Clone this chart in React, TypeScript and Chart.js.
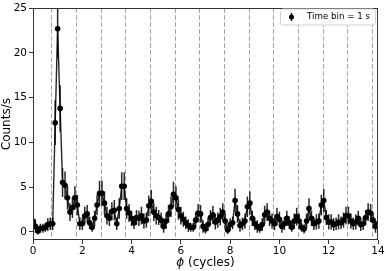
import React, { useEffect, useRef } from "react";
import { Chart, registerables } from "chart.js";

Chart.register(...registerables);

const phase = [
  0.0, 0.1, 0.2, 0.3, 0.4, 0.5, 0.6, 0.7, 0.8, 0.9,
  1.0, 1.1, 1.2, 1.3, 1.4, 1.5, 1.6, 1.7, 1.8, 1.9,
  2.0, 2.1, 2.2, 2.3, 2.4, 2.5, 2.6, 2.7, 2.8, 2.9,
  3.0, 3.1, 3.2, 3.3, 3.4, 3.5, 3.6, 3.7, 3.8, 3.9,
  4.0, 4.1, 4.2, 4.3, 4.4, 4.5, 4.6, 4.7, 4.8, 4.9,
  5.0, 5.1, 5.2, 5.3, 5.4, 5.5, 5.6, 5.7, 5.8, 5.9,
  6.0, 6.1, 6.2, 6.3, 6.4, 6.5, 6.6, 6.7, 6.8, 6.9,
  7.0, 7.1, 7.2, 7.3, 7.4, 7.5, 7.6, 7.7, 7.8, 7.9,
  8.0, 8.1, 8.2, 8.3, 8.4, 8.5, 8.6, 8.7, 8.8, 8.9,
  9.0, 9.1, 9.2, 9.3, 9.4, 9.5, 9.6, 9.7, 9.8, 9.9,
  10.0, 10.1, 10.2, 10.3, 10.4, 10.5, 10.6, 10.7, 10.8, 10.9,
  11.0, 11.1, 11.2, 11.3, 11.4, 11.5, 11.6, 11.7, 11.8, 11.9,
  12.0, 12.1, 12.2, 12.3, 12.4, 12.5, 12.6, 12.7, 12.8, 12.9,
  13.0, 13.1, 13.2, 13.3, 13.4, 13.5, 13.6, 13.7, 13.8, 13.9,
  14.0,
];

const counts = [
  1.2, 0.6, 0.1, 0.4, 0.4, 0.5, 0.8, 0.9, 0.9, 12.2,
  22.7, 13.8, 5.5, 5.2, 3.8, 2.2, 2.7, 3.8, 3.0, 0.9,
  0.9, 1.8, 2.0, 1.0, 0.5, 1.5, 3.0, 4.3, 4.3, 3.2,
  1.8, 1.5, 2.3, 2.4, 0.9, 2.6, 5.1, 5.1, 2.6, 2.1,
  1.5, 1.0, 1.6, 1.5, 1.8, 1.2, 1.3, 2.9, 3.4, 2.2,
  1.8, 1.6, 1.3, 0.6, 1.2, 2.0, 2.8, 4.2, 3.8, 2.5,
  1.8, 1.4, 1.0, 0.7, 0.5, 0.5, 1.3, 2.1, 2.0, 0.6,
  0.3, 0.8, 1.6, 1.9, 1.1, 1.3, 1.7, 2.2, 1.2, 0.2,
  0.8, 1.0, 3.5, 2.0, 0.7, 0.9, 1.2, 2.8, 3.2, 1.5,
  0.9, 0.6, 0.4, 0.8, 1.9, 2.2, 1.5, 1.2, 0.9, 1.7,
  1.4, 0.6, 0.9, 1.5, 1.0, 0.5, 1.2, 1.7, 1.2, 0.5,
  0.3, 1.2, 2.6, 1.5, 0.9, 1.1, 1.2, 3.0, 3.5, 1.6,
  1.1, 1.1, 0.8, 0.9, 1.1, 1.0, 1.3, 1.8, 1.8, 1.2,
  0.9, 1.1, 1.5, 0.8, 0.9, 1.6, 2.2, 2.1, 1.3, 0.6,
  0.9,
];

const errors = [
  0.85, 0.7, 0.4, 0.5, 0.5, 0.5, 0.7, 0.7, 0.7, 2.5,
  3.3, 2.6, 1.6, 1.55, 1.3, 1.0, 1.15, 1.3, 1.15, 0.7,
  0.7, 1.0, 1.0, 0.7, 0.5, 0.85, 1.15, 1.4, 1.4, 1.3,
  1.0, 0.85, 1.0, 1.15, 0.7, 1.15, 1.55, 1.55, 1.15, 1.0,
  0.85, 0.7, 0.85, 0.85, 1.0, 0.85, 0.85, 1.15, 1.3, 1.0,
  1.0, 0.85, 0.85, 0.7, 0.85, 1.0, 1.15, 1.4, 1.3, 1.15,
  1.0, 0.85, 0.7, 0.7, 0.5, 0.5, 0.85, 1.0, 1.0, 0.7,
  0.5, 0.7, 0.85, 1.0, 0.85, 0.85, 1.0, 1.0, 0.85, 0.45,
  0.7, 0.7, 1.3, 1.0, 0.7, 0.7, 0.85, 1.15, 1.3, 0.85,
  0.7, 0.7, 0.5, 0.7, 1.0, 1.0, 0.85, 0.85, 0.7, 1.0,
  0.85, 0.7, 0.7, 0.85, 0.7, 0.5, 0.85, 1.0, 0.85, 0.5,
  0.5, 0.85, 1.15, 0.85, 0.7, 0.85, 0.85, 1.15, 1.3, 0.85,
  0.85, 0.85, 0.7, 0.7, 0.85, 0.7, 0.85, 1.0, 1.0, 0.85,
  0.7, 0.85, 0.85, 0.7, 0.7, 0.85, 1.0, 1.0, 0.85, 0.7,
  0.7,
];

const dashedLines = [0.75, 1.75, 2.75, 3.75, 4.75, 5.75, 6.75, 7.75, 8.75, 9.75, 10.75, 11.75, 12.75, 13.75];
const xTicks = [0, 2, 4, 6, 8, 10, 12, 14];
const yTicks = [0, 5, 10, 15, 20, 25];
const xTitleSymbol = "ϕ";
const xTitleRest = " (cycles)";
const yTitle = "Counts/s";
const legendLabel = "Time bin = 1 s";

const FONT = "'DejaVu Sans', sans-serif";

const decorPlugin = {
  id: "decor",
  beforeDatasetsDraw(chart: any) {
    const { ctx, chartArea, scales } = chart;
    const xs = scales.x;
    const ys = scales.y;
    ctx.save();
    ctx.beginPath();
    ctx.rect(chartArea.left, chartArea.top, chartArea.right - chartArea.left, chartArea.bottom - chartArea.top);
    ctx.clip();
    // dashed vertical lines
    ctx.strokeStyle = "#a0a0a0";
    ctx.lineWidth = 1;
    ctx.setLineDash([4.5, 2.5]);
    for (const v of dashedLines) {
      const px = Math.round(xs.getPixelForValue(v)) + 0.5;
      ctx.beginPath();
      ctx.moveTo(px, chartArea.top);
      ctx.lineTo(px, chartArea.bottom);
      ctx.stroke();
    }
    ctx.setLineDash([]);
    // error bars
    ctx.strokeStyle = "rgba(0,0,0,0.85)";
    ctx.lineWidth = 1.5;
    for (let i = 0; i < phase.length; i++) {
      const px = xs.getPixelForValue(phase[i]);
      const y1 = ys.getPixelForValue(counts[i] - errors[i]);
      const y2 = ys.getPixelForValue(counts[i] + errors[i]);
      ctx.beginPath();
      ctx.moveTo(px, y1);
      ctx.lineTo(px, y2);
      ctx.stroke();
    }
    ctx.restore();
  },
  afterDraw(chart: any) {
    const { ctx, chartArea } = chart;
    ctx.save();
    // frame
    ctx.strokeStyle = "#333";
    ctx.lineWidth = 1;
    ctx.strokeRect(
      Math.round(chartArea.left) + 0.5,
      Math.round(chartArea.top) + 0.5,
      Math.round(chartArea.right - chartArea.left) - 1,
      Math.round(chartArea.bottom - chartArea.top) - 1
    );
    // x title
    ctx.fillStyle = "#000";
    ctx.textBaseline = "middle";
    ctx.font = `italic 12px ${FONT}`;
    const w1 = ctx.measureText(xTitleSymbol).width;
    ctx.font = `12px ${FONT}`;
    const w2 = ctx.measureText(xTitleRest).width;
    const cx = (chartArea.left + chartArea.right) / 2;
    let sx = cx - (w1 + w2) / 2;
    ctx.textAlign = "left";
    ctx.font = `italic 12px ${FONT}`;
    ctx.fillText(xTitleSymbol, sx, 263);
    ctx.font = `12px ${FONT}`;
    ctx.fillText(xTitleRest, sx + w1, 263);
    // y title
    ctx.save();
    ctx.translate(7, (chartArea.top + chartArea.bottom) / 2);
    ctx.rotate(-Math.PI / 2);
    ctx.textAlign = "center";
    ctx.font = `12px ${FONT}`;
    ctx.fillText(yTitle, 0, 0);
    ctx.restore();
    // legend
    const lx = 280, ly = 8.5, lw = 95, lh = 16;
    ctx.beginPath();
    ctx.roundRect(lx + 0.5, ly + 0.5, lw, lh, 2.5);
    ctx.fillStyle = "rgba(255,255,255,0.85)";
    ctx.fill();
    ctx.strokeStyle = "#d0d0d0";
    ctx.lineWidth = 1;
    ctx.stroke();
    const my = ly + lh / 2 + 0.5;
    ctx.strokeStyle = "#000";
    ctx.lineWidth = 1.4;
    ctx.beginPath();
    ctx.moveTo(291.5, my - 4);
    ctx.lineTo(291.5, my + 4);
    ctx.stroke();
    ctx.fillStyle = "#000";
    ctx.beginPath();
    ctx.arc(291.5, my, 2.5, 0, Math.PI * 2);
    ctx.fill();
    ctx.font = `8.7px ${FONT}`;
    ctx.textAlign = "left";
    ctx.textBaseline = "middle";
    ctx.fillText(legendLabel, 307, my);
    ctx.restore();
  },
};

export default function App() {
  const ref = useRef<HTMLCanvasElement>(null);
  useEffect(() => {
    if (!ref.current) return;
    const points = phase.map((p, i) => ({ x: p, y: counts[i] }));
    const chart = new Chart(ref.current, {
      type: "scatter",
      data: {
        datasets: [
          {
            data: points,
            showLine: true,
            borderColor: "rgba(0,0,0,0.85)",
            borderWidth: 1.4,
            backgroundColor: "#000",
            pointBackgroundColor: "#000",
            pointBorderWidth: 0,
            pointRadius: 2.8,
            tension: 0,
          },
        ],
      },
      options: {
        animation: false,
        responsive: true,
        maintainAspectRatio: false,
        layout: { padding: { left: 0, right: 8, top: 5, bottom: 0 } },
        plugins: { legend: { display: false }, tooltip: { enabled: false } },
        scales: {
          x: {
            type: "linear",
            min: 0,
            max: 14,
            afterBuildTicks: (s: any) => {
              s.ticks = xTicks.map((v) => ({ value: v }));
            },
            afterFit: (s: any) => {
              s.height = 31;
            },
            grid: { display: true, drawOnChartArea: false, drawTicks: true, tickLength: 4, color: "#333" },
            border: { display: false },
            ticks: { color: "#000", font: { family: FONT, size: 10.5 }, padding: 1, maxRotation: 0 },
          },
          y: {
            type: "linear",
            min: -0.92,
            max: 25,
            afterBuildTicks: (s: any) => {
              s.ticks = yTicks.map((v) => ({ value: v }));
            },
            afterFit: (s: any) => {
              s.width = 33;
            },
            grid: { display: true, drawOnChartArea: false, drawTicks: true, tickLength: 4, color: "#333" },
            border: { display: false },
            ticks: { color: "#000", font: { family: FONT, size: 10.5 }, padding: 2 },
          },
        },
      },
      plugins: [decorPlugin],
    });
    return () => chart.destroy();
  }, []);
  return (
    <div style={{ position: "fixed", left: 0, top: 0, width: 386, height: 271, background: "#fff" }}>
      <canvas ref={ref} />
    </div>
  );
}
